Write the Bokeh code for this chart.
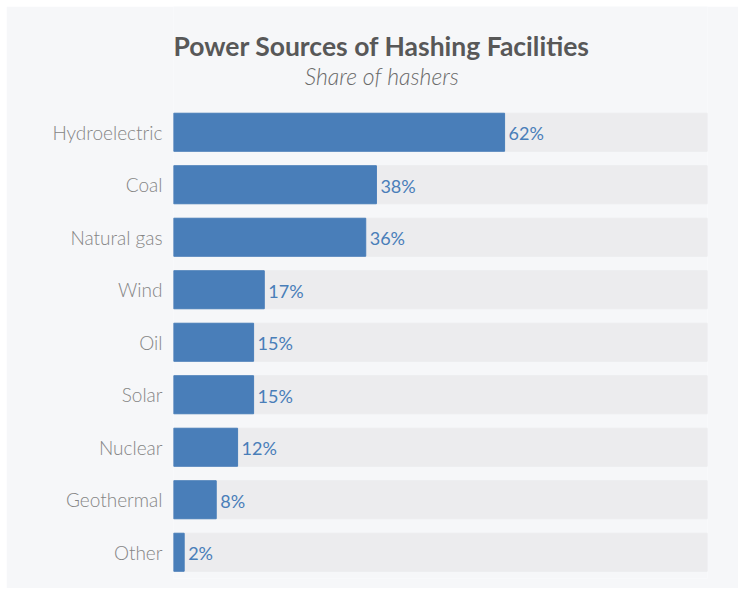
from bokeh.plotting import figure
from bokeh.models import Range1d, FixedTicker, ColumnDataSource
from bokeh.core.properties import value
from bokeh.embed import file_html
from bokeh.resources import INLINE

categories = ["Hydroelectric", "Coal", "Natural gas", "Wind", "Oil", "Solar", "Nuclear", "Geothermal", "Other"]
shares = [62, 38, 36, 17, 15, 15, 12, 8, 2]
full = [100] * len(categories)
value_labels = [f"{v}%" for v in shares]
title_text = "Power Sources of Hashing Facilities"
subtitle_text = "Share of hashers"

BG = "#f6f7f9"
BLUE = "#497eb9"
TRACK = "#ececee"

n = len(categories)
pos = [n - 1 - i for i in range(n)]  # top to bottom
src = ColumnDataSource(dict(pos=pos, cat=categories, share=shares, full=full, lab=value_labels))

FRAME_H = 572
BAND = 52.5
y_end = -0.5 + FRAME_H / BAND

p = figure(
    width=732, height=582,
    y_range=Range1d(-0.5, y_end),
    x_range=Range1d(0, 100),
    output_backend="svg", toolbar_location=None,
    min_border_left=167, min_border_right=31, min_border_bottom=10, min_border_top=0,
)
p.margin = (6, 6, 4, 6)
p.background_fill_color = BG
p.border_fill_color = BG
p.outline_line_color = None
p.xgrid.visible = False
p.ygrid.visible = False
p.xaxis.visible = False

p.hbar(y="pos", left=0, right="full", height=0.724, color=TRACK, source=src)
p.hbar(y="pos", left=0, right="share", height=0.724, color=BLUE, source=src)
p.text(x="share", y="pos", text="lab", source=src, x_offset=4, y_offset=1,
       text_align="left", text_baseline="middle", text_color=BLUE,
       text_font=value("Lato"), text_font_size="18px")

ax = p.yaxis[0]
ax.ticker = FixedTicker(ticks=pos)
ax.major_label_overrides = {pp: c for pp, c in zip(pos, categories)}
ax.axis_line_color = None
ax.major_tick_line_color = None
ax.minor_tick_line_color = None
ax.major_label_text_font = "Lato Light"
ax.major_label_text_font_size = "19px"
ax.major_label_text_color = "#858585"
ax.major_label_standoff = 5

# title block, placed in frame coordinates above the bars
title_x = 39
title_y = -0.5 + 533 / BAND
sub_y = -0.5 + 503 / BAND
p.text(x=[title_x], y=[title_y], text=[title_text], text_align="center", text_baseline="alphabetic",
       text_font=value("Lato"), text_font_size="26.5px", text_font_style="bold", text_color="#585858")
p.text(x=[title_x], y=[sub_y], text=[subtitle_text], text_align="center", text_baseline="alphabetic",
       text_font=value("Lato Light"), text_font_size="23px", text_font_style="italic", text_color="#6a6a6a")

open("out.html", "w").write(file_html(p, INLINE))
